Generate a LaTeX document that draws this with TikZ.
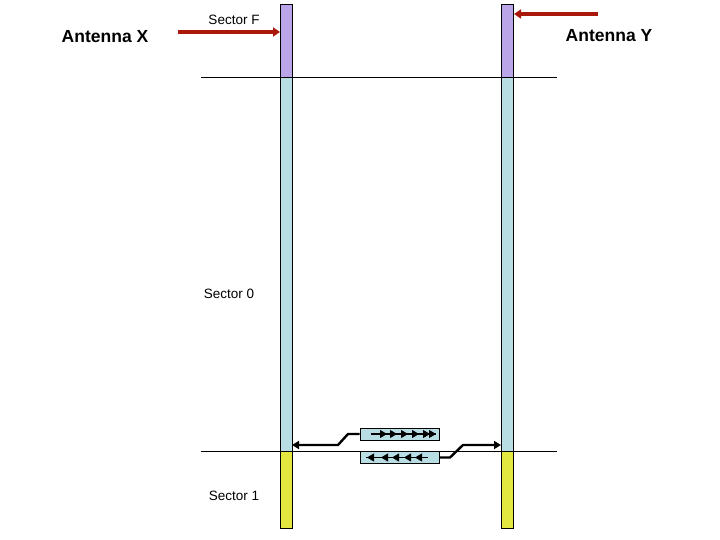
\documentclass[tikz,border=0pt]{standalone}
\usepackage{fontspec}
\setmainfont{Liberation Sans}
\usetikzlibrary{arrows.meta}
\definecolor{barpurple}{RGB}{185,165,232}
\definecolor{barblue}{RGB}{184,222,228}
\definecolor{baryellow}{RGB}{226,232,64}
\definecolor{antred}{RGB}{170,24,12}
\begin{document}
\begin{tikzpicture}[x=1pt,y=-1pt,
  seg/.style={draw=black,line width=0.8pt},
  hline/.style={draw=black,line width=0.7pt},
  antarrow/.style={draw=antred,line width=3.5pt,-{Triangle[length=7pt,width=9pt]}},
  conn/.style={draw=black,line width=2.4pt,-{Triangle[length=7pt,width=8pt]}},
  pkt/.style={draw=black,fill=barblue,line width=0.8pt,minimum width=79pt,minimum height=12pt,inner sep=0pt},
  big/.style={font=\fontsize{17.5}{19}\selectfont\bfseries},
  small/.style={font=\fontsize{13.5}{15}\selectfont},
  tip/.style={-{Triangle[length=7pt,width=8pt]}}]
\useasboundingbox (0,0) rectangle (720,540);
% bars
\fill[barpurple] (280,4) rectangle (292,77);
\fill[barblue] (280,77) rectangle (292,451);
\fill[baryellow] (280,451) rectangle (292,528);
\draw[seg] (280,4) rectangle (292,528);
\fill[barpurple] (501,4) rectangle (513,77);
\fill[barblue] (501,77) rectangle (513,451);
\fill[baryellow] (501,451) rectangle (513,528);
\draw[seg] (501,4) rectangle (513,528);
\coordinate (lbar) at (292,445);
\coordinate (rbar) at (501,445);
% horizontal lines
\draw[hline] (201,77) -- (557,77);
\draw[hline] (201,451) -- (557,451);
% labels
\node[big] (ax) at (105,37) {Antenna X};
\node[big] (ay) at (609,36) {Antenna Y};
\node[small] (sf) at (234,20) {Sector F};
\node[small] (s0) at (229,294) {Sector 0};
\node[small] (s1) at (234,496) {Sector 1};
% antenna arrows
\coordinate (axs) at (178,32);
\coordinate (axe) at (280,32);
\coordinate (ays) at (598,14);
\coordinate (aye) at (514,14);
\draw[antarrow] (axs) -- (axe);
\draw[antarrow] (ays) -- (aye);
% packet boxes
\node[pkt] (up) at (399.5,434) {};
\node[pkt] (lo) at (400,457.5) {};
\draw[conn] (up.west) -- (348,434) -- (338,445) -- (lbar);
\draw[conn] (lo.east) -- (450,457.5) -- (463,445) -- (rbar);
% arrows in boxes
\draw[line width=1.8pt] (371,434) -- (436,434);
\foreach \x in {387,397,408,419,430,436}
  \draw[line width=1pt,tip] (\x-4,434) -- (\x,434);
\draw[line width=1.8pt] (366,457.5) -- (428,457.5);
\foreach \x in {367,381,392,404,415}
  \draw[line width=1pt,tip] (\x+4,457.5) -- (\x,457.5);
\end{tikzpicture}
\end{document}
